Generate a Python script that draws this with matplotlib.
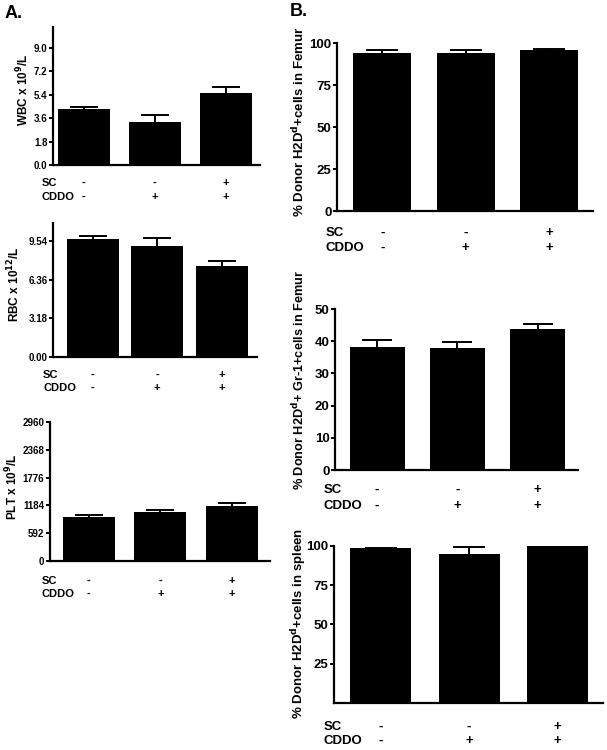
import numpy as np
import matplotlib
matplotlib.use("Agg")
import matplotlib.pyplot as plt
from matplotlib.transforms import blended_transform_factory

plt.rcParams['font.family'] = ['Liberation Sans', 'DejaVu Sans']
plt.rcParams['font.weight'] = 'bold'

# data
sc_signs = ["-", "-", "+"]
cddo_signs = ["-", "+", "+"]

wbc = [4.28, 3.32, 5.55]
wbc_err = [0.20, 0.55, 0.45]
rbc = [9.70, 9.09, 7.44]
rbc_err = [0.20, 0.70, 0.48]
plt_cnt = [931, 1035, 1173]
plt_err = [56, 48, 55]

femur = [94.2, 94.1, 95.8]
femur_err = [1.6, 1.9, 0.7]
gr1 = [38.3, 37.8, 43.9]
gr1_err = [2.2, 2.1, 1.5]
spleen = [98.3, 95.0, 99.8]
spleen_err = [0.4, 4.2, 0.2]

W, H = 607, 750
fig = plt.figure(figsize=(W / 100, H / 100), dpi=100)


def panel(rect, centers, bw, vals, errs, ylim, ticks, ticklabels, ylabel,
          lab_xy, lab_size, rows_y, row_x, fs_tick, fs_row):
    x0, ytop, x1, ybot = rect
    ax = fig.add_axes([x0 / W, 1 - ybot / H, (x1 - x0) / W, (ybot - ytop) / H])
    s = (centers[2] - centers[0]) / 2
    pos = np.arange(3)
    ax.bar(pos, vals, width=bw / s, color='black', zorder=2)
    # upper error only, cap about half the bar width
    eb = ax.errorbar(pos, vals, yerr=[np.zeros(3), errs], fmt='none', ecolor='black',
                     elinewidth=1.4, capsize=bw * 0.27 * 0.72, capthick=1.4, zorder=1)
    eb[1][0].set_visible(False)
    ax.set_xlim(-(centers[0] - x0) / s, 2 + (x1 - centers[2]) / s)
    ax.set_ylim(*ylim)
    ax.set_yticks(ticks)
    ax.set_yticklabels(ticklabels, fontsize=fs_tick, fontweight='bold')
    ax.set_xticks([])
    for sp in ['top', 'right']:
        ax.spines[sp].set_visible(False)
    for sp in ['left', 'bottom']:
        ax.spines[sp].set_linewidth(1.6)
    ax.tick_params(axis='y', direction='out', length=3, width=1.4, pad=1)
    fig.text(lab_xy[0] / W, 1 - lab_xy[1] / H, ylabel, rotation=90,
             ha='center', va='center', fontsize=lab_size, fontweight='bold')
    tr = blended_transform_factory(ax.transData, fig.transFigure)
    for name, signs, ry in zip(["SC", "CDDO"], [sc_signs, cddo_signs], rows_y):
        fig.text(row_x / W, 1 - ry / H, name, ha='left', va='center',
                 fontsize=fs_row, fontweight='bold')
        for p, sg in zip(pos, signs):
            ax.text(p, 1 - ry / H, sg, transform=tr, ha='center', va='center',
                    fontsize=fs_row, fontweight='bold')
    return ax


# panel A
panel((53, 27, 260, 165), (83.5, 156.5, 225.5), 52, wbc, wbc_err, (0, 10.6),
      [0, 1.8, 3.6, 5.4, 7.2, 9.0], ["0.0", "1.8", "3.6", "5.4", "7.2", "9.0"],
      r"WBC x 10$^{\mathbf{9}}$/L", (23, 90), 8.5, (183, 197), 42, 7, 8)
panel((53, 223, 257, 357), (92.5, 155, 221.5), 52, rbc, rbc_err, (0, 11.0),
      [0, 3.18, 6.36, 9.54], ["0.00", "3.18", "6.36", "9.54"],
      r"RBC x 10$^{\mathbf{12}}$/L", (14, 284), 8.5, (375, 388), 43, 7, 8)
panel((50, 422, 270, 561), (89, 161, 232), 52, plt_cnt, plt_err, (0, 2960),
      [0, 592, 1184, 1776, 2368, 2960], ["0", "592", "1184", "1776", "2368", "2960"],
      r"PLT x 10$^{\mathbf{9}}$/L", (12, 487), 8.5, (581, 594), 42, 7, 8)

# panel B
panel((337, 43, 593, 211), (382.5, 466, 549), 58, femur, femur_err, (0, 100),
      [0, 25, 50, 75, 100], ["0", "25", "50", "75", "100"],
      r"% Donor H2D$^{\mathbf{d}}$+cells in Femur", (299, 122), 9.5, (233, 248), 326, 9.5, 9.5)
panel((335, 309, 578, 470), (377, 457.5, 537.5), 55, gr1, gr1_err, (0, 50),
      [0, 10, 20, 30, 40, 50], ["0", "10", "20", "30", "40", "50"],
      r"% Donor H2D$^{\mathbf{d}}$+ Gr-1+cells in Femur", (299, 380), 9.2, (490, 506), 324, 9.5, 9.5)
panel((334, 545.7, 603, 703), (380.5, 468.5, 557.5), 61, spleen, spleen_err, (0, 100),
      [25, 50, 75, 100], ["25", "50", "75", "100"],
      r"% Donor H2D$^{\mathbf{d}}$+cells in spleen", (299, 623), 9.5, (727, 741), 324, 9.5, 9.5)

fig.text(5 / W, 1 - 13 / H, "A.", fontsize=13, fontweight='bold', va='center')
fig.text(290 / W, 1 - 12 / H, "B.", fontsize=13, fontweight='bold', va='center')

fig.savefig("out.png", dpi=100)
